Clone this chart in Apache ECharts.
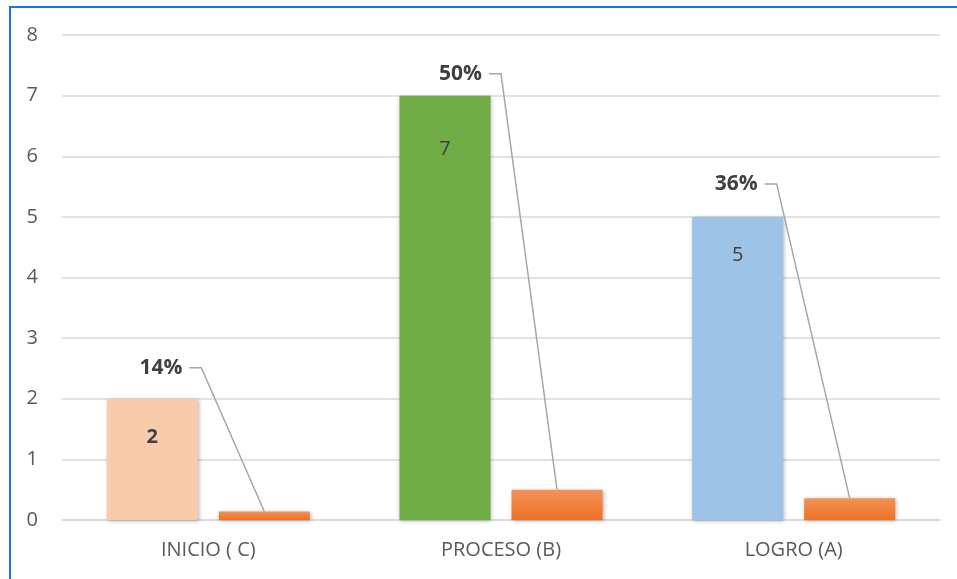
<!DOCTYPE html>
<html>
<head>
<meta charset="utf-8">
<script src="https://cdn.jsdelivr.net/npm/echarts@6/dist/echarts.min.js"></script>
<style>
  html, body { margin: 0; padding: 0; background: #fff; }
  #chart { width: 957px; height: 579px; }
  #frame { position: absolute; left: 9px; top: 6px; width: 980px; height: 600px;
           border-left: 2px solid #1a6dff; border-top: 2px solid #1a6dff; pointer-events: none; }
</style>
</head>
<body>
<div id="chart"></div>
<div id="frame"></div>
<script>
const categories = ['INICIO ( C)', 'PROCESO (B)', 'LOGRO (A)'];
const counts = [2, 7, 5];
const percents = [0.14, 0.50, 0.36];
const pctLabels = ['14%', '50%', '36%'];
const yTicks = [0, 1, 2, 3, 4, 5, 6, 7, 8];

const countColors = ['#F8CBAD', '#70AD47', '#9DC3E6'];
const countBold = [true, false, false];
const countLabelDist = [29, 44, 28];
// label placement styling (pixels relative to category centre / count bar top)
const labelDx = [-26, -19, -36];
const labelDy = [-31, -22, -33];

const BAR_W = 91, GAP = 21;
const FONT = '"Open Sans", "Noto Sans", sans-serif';

const chart = echarts.init(document.getElementById('chart'), null, { renderer: 'canvas' });

const orangeGrad = new echarts.graphic.LinearGradient(0, 0, 0, 1, [
  { offset: 0, color: '#F39257' },
  { offset: 1, color: '#EC7224' }
]);

chart.setOption({
  animation: false,
  grid: { left: 62, right: 17, top: 35, bottom: 59 },
  xAxis: {
    type: 'category',
    data: categories,
    axisTick: { show: false },
    axisLine: { lineStyle: { color: '#D9D9D9', width: 1.5 } },
    axisLabel: { color: '#595959', fontSize: 20, fontFamily: FONT, margin: 20 }
  },
  yAxis: {
    type: 'value',
    min: yTicks[0],
    max: yTicks[yTicks.length - 1],
    interval: 1,
    axisLine: { show: false },
    axisTick: { show: false },
    splitLine: { lineStyle: { color: '#D9D9D9', width: 1.5 } },
    axisLabel: { color: '#595959', fontSize: 20, fontFamily: FONT, margin: 24 }
  },
  series: [
    {
      type: 'bar',
      barWidth: BAR_W,
      barGap: (GAP / BAR_W * 100).toFixed(1) + '%',
      data: counts.map((v, i) => ({
        value: v,
        itemStyle: { color: countColors[i] },
        label: {
          show: true,
          position: 'insideTop',
          distance: countLabelDist[i],
          formatter: String(v),
          fontWeight: countBold[i] ? 'bold' : 'normal',
          fontSize: 20,
          fontFamily: FONT,
          color: '#404040'
        }
      })),
      itemStyle: { shadowBlur: 4, shadowColor: 'rgba(0,0,0,0.3)', shadowOffsetX: 1, shadowOffsetY: 1 }
    },
    {
      type: 'bar',
      barWidth: BAR_W,
      data: percents,
      itemStyle: { color: orangeGrad, shadowBlur: 4, shadowColor: 'rgba(0,0,0,0.3)', shadowOffsetX: 1, shadowOffsetY: 1 }
    },
    {
      type: 'custom',
      z: 10,
      clip: false,
      data: categories.map((c, i) => [i, percents[i], counts[i]]),
      renderItem: function (params, api) {
        const i = api.value(0);
        const centre = api.coord([i, 0]);
        const pctTop = api.coord([i, api.value(1)]);
        const cntTop = api.coord([i, api.value(2)]);
        const textRight = centre[0] + labelDx[i];
        const ty = cntTop[1] + labelDy[i];
        const barX = centre[0] + (BAR_W + GAP) / 2;
        return {
          type: 'group',
          children: [
            {
              type: 'polyline',
              shape: { points: [[textRight + 7, ty], [textRight + 19, ty], [barX, pctTop[1]]] },
              style: { stroke: '#A6A6A6', lineWidth: 1.5, fill: null }
            },
            {
              type: 'text',
              style: {
                x: textRight, y: ty,
                text: pctLabels[i],
                align: 'right', verticalAlign: 'middle',
                font: 'bold 21px ' + FONT,
                fill: '#404040'
              }
            }
          ]
        };
      }
    }
  ]
});
</script>
</body>
</html>
